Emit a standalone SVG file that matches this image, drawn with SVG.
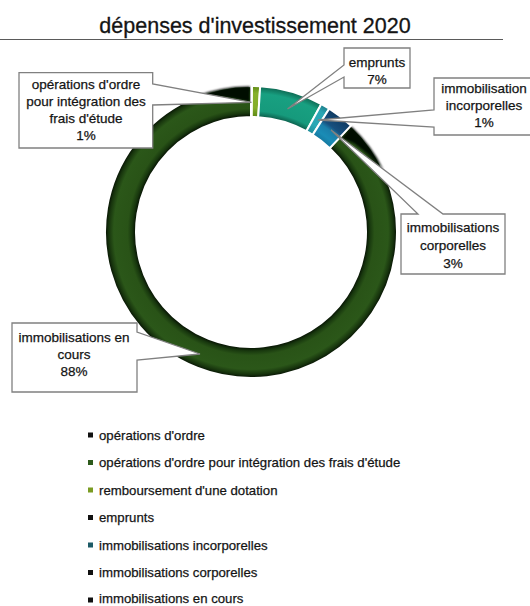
<svg xmlns="http://www.w3.org/2000/svg" width="530" height="606" viewBox="0 0 530 606">
<style>
text{font-family:"Liberation Sans",Arial,sans-serif;fill:#141414;stroke:#141414;stroke-width:0.25}
.t{font-size:21.5px;stroke-width:0.3}
.lb{font-size:13.5px;text-anchor:middle}
.lg{font-size:13.2px}
.co{fill:#fff;stroke:#808080;stroke-width:1.3;stroke-linejoin:miter}
.seg{stroke:#fff;stroke-width:2}
</style>
<defs>
<radialGradient id="gE" gradientUnits="userSpaceOnUse" cx="251" cy="232" r="146">
<stop offset="0.788" stop-color="#040d02"/><stop offset="0.815" stop-color="#18380e"/><stop offset="0.845" stop-color="#295317"/><stop offset="0.94" stop-color="#2b5719"/><stop offset="0.975" stop-color="#17340d"/><stop offset="1" stop-color="#040d02"/>
</radialGradient>
<radialGradient id="gB" gradientUnits="userSpaceOnUse" cx="251" cy="232" r="146">
<stop offset="0.788" stop-color="#0c5b49"/><stop offset="0.83" stop-color="#169a7c"/><stop offset="0.95" stop-color="#18a081"/><stop offset="1" stop-color="#0d6650"/>
</radialGradient>
<radialGradient id="gA" gradientUnits="userSpaceOnUse" cx="251" cy="232" r="146">
<stop offset="0.788" stop-color="#5c8614"/><stop offset="0.85" stop-color="#84ad28"/><stop offset="0.95" stop-color="#86b02a"/><stop offset="1" stop-color="#5f8a17"/>
</radialGradient>
<radialGradient id="gC" gradientUnits="userSpaceOnUse" cx="251" cy="232" r="146">
<stop offset="0.788" stop-color="#1f8c98"/><stop offset="0.85" stop-color="#2aa7b5"/><stop offset="0.95" stop-color="#2aa5b3"/><stop offset="1" stop-color="#1d7c88"/>
</radialGradient>
<radialGradient id="gD" gradientUnits="userSpaceOnUse" cx="251" cy="232" r="146">
<stop offset="0.788" stop-color="#15789f"/><stop offset="0.83" stop-color="#1a8cb6"/><stop offset="0.88" stop-color="#1a7fab"/><stop offset="0.91" stop-color="#17507f"/><stop offset="1" stop-color="#0f3a62"/>
</radialGradient>
<filter id="bl" x="-10%" y="-10%" width="120%" height="120%"><feGaussianBlur stdDeviation="1.2"/></filter>
</defs>
<rect width="530" height="606" fill="#fff"/>

<g id="title">
<text class="t" x="255" y="33" text-anchor="middle">dépenses d'investissement 2020</text>
<line x1="0" y1="39.5" x2="503" y2="39.5" stroke="#5a5a5a" stroke-width="1"/>
</g>

<g id="ring">
<g id="seg-encours">
<path class="seg" fill="url(#gE)" d="M350.94,125.57 A146,146 0 1 1 251,86 L251,117 A115,115 0 1 0 329.72,148.17 Z"/>
<path fill="#040d02" filter="url(#bl)" d="M196,96.2 A146,146 0 0 1 250,86.5 L250,102 L232.07,98.3 L214.51,96.5 Z"/>
<path fill="#040d02" filter="url(#bl)" d="M351.5,126.5 A146,146 0 0 1 383.5,170 L368.5,154.5 L354,143.5 L341.5,138 Z"/>
</g>
<path id="seg-remb" class="seg" fill="url(#gA)" d="M252.02,86 A146,146 0 0 1 260.17,86.29 L258.22,117.23 A115,115 0 0 0 251.8,117 Z"/>
<path id="seg-emprunts" class="seg" fill="url(#gB)" d="M260.17,86.29 A146,146 0 0 1 321.34,104.06 L306.4,131.22 A115,115 0 0 0 258.22,117.23 Z"/>
<path id="seg-incorp" class="seg" fill="url(#gC)" d="M321.34,104.06 A146,146 0 0 1 329.23,108.73 L312.62,134.9 A115,115 0 0 0 306.4,131.22 Z"/>
<path id="seg-corp" class="seg" fill="url(#gD)" d="M329.23,108.73 A146,146 0 0 1 350.94,125.57 L329.72,148.17 A115,115 0 0 0 312.62,134.9 Z"/>
</g>

<g id="callouts">
<g id="lbl-frais">
<path class="co" d="M19,72.7 H152.7 V84 L251.5,102.3 L152.7,105 V148 H19 Z"/>
<text class="lb" x="86" y="89">opérations d'ordre</text>
<text class="lb" x="86" y="106">pour intégration des</text>
<text class="lb" x="86" y="123">frais d'étude</text>
<text class="lb" x="86" y="140">1%</text>
</g>
<g id="lbl-emprunts">
<path class="co" d="M344,48 H410 V88 H344 V77 L287.5,109 L344,65 Z"/>
<text class="lb" x="377" y="67">emprunts</text>
<text class="lb" x="377" y="84">7%</text>
</g>
<g id="lbl-incorp">
<path class="co" d="M434,78 H532 V135 H434 V127 L318,120 L434,110 Z"/>
<text class="lb" x="484" y="93">immobilisation</text>
<text class="lb" x="484" y="110">incorporelles</text>
<text class="lb" x="484" y="127">1%</text>
</g>
<g id="lbl-corp">
<path class="co" d="M401,214 H418 L331,130 L443,214 H505 V274 H401 Z"/>
<text class="lb" x="453" y="232">immobilisations</text>
<text class="lb" x="453" y="250">corporelles</text>
<text class="lb" x="453" y="268">3%</text>
</g>
<g id="lbl-encours">
<path class="co" d="M12,323 H137 V332 L200,354 L137,360 V392 H12 Z"/>
<text class="lb" x="74" y="342">immobilisations en</text>
<text class="lb" x="74" y="359">cours</text>
<text class="lb" x="74" y="376">88%</text>
</g>
</g>

<g id="legend">
<g id="leg1"><rect x="88" y="432.5" width="5" height="5" fill="#111"/><text class="lg" x="99" y="439.5">opérations d'ordre</text></g>
<g id="leg2"><rect x="88" y="460" width="5" height="5" fill="#2d5a1b"/><text class="lg" x="99" y="467">opérations d'ordre pour intégration des frais d'étude</text></g>
<g id="leg3"><rect x="88" y="487.5" width="5" height="5" fill="#7a9c22"/><text class="lg" x="99" y="494.5">remboursement d'une dotation</text></g>
<g id="leg4"><rect x="88" y="515" width="5" height="5" fill="#111"/><text class="lg" x="99" y="522">emprunts</text></g>
<g id="leg5"><rect x="88" y="542.5" width="5" height="5" fill="#1d5a66"/><text class="lg" x="99" y="549.5">immobilisations incorporelles</text></g>
<g id="leg6"><rect x="88" y="570" width="5" height="5" fill="#111"/><text class="lg" x="99" y="577">immobilisations corporelles</text></g>
<g id="leg7"><rect x="88" y="597.5" width="5" height="5" fill="#111"/><text class="lg" x="99" y="603">immobilisations en cours</text></g>
</g>
</svg>
